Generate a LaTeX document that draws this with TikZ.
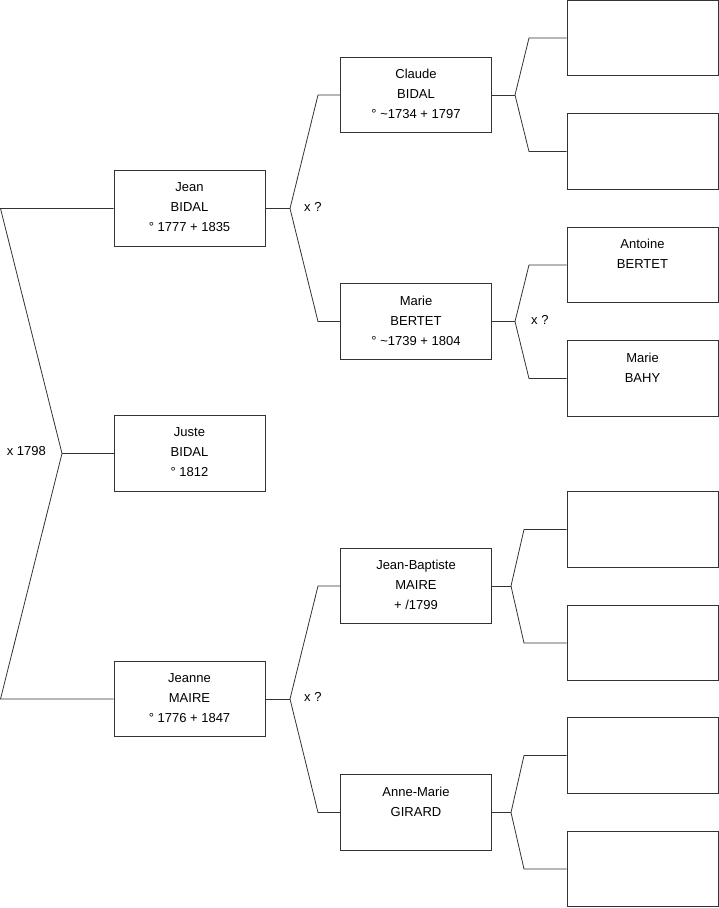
\documentclass[tikz,border=0pt]{standalone}
\usepackage{fontspec}
\setmainfont{Liberation Sans}
\usetikzlibrary{positioning}

\begin{document}
\begin{tikzpicture}[
    x=1pt, y=-1pt,
    person/.style={draw=black!80, line width=0.9pt, minimum width=151pt, minimum height=75.5pt, inner sep=0pt,
        label={[anchor=north, yshift=-9pt, align=center, font=\fontsize{13}{20}\selectfont]north:#1}},
    link/.style={draw=black!80, line width=0.8pt},
    union/.style={anchor=west, inner sep=0pt, font=\fontsize{13}{15}\selectfont}
]
\useasboundingbox (0,0) rectangle (719,908);

% Enfant
\node[person={Juste\\BIDAL\\° 1812}] (juste) at (189.5,453.5) {};

% Parents
\node[person={Jean\\BIDAL\\° 1777 + 1835}] (jean) at (189.5,208.5) {};
\node[person={Jeanne\\MAIRE\\° 1776 + 1847}] (jeanne) at (189.5,699) {};

% Grands-parents
\node[person={Claude\\BIDAL\\° \textasciitilde1734 + 1797}] (claude) at (416,95) {};
\node[person={Marie\\BERTET\\° \textasciitilde1739 + 1804}] (marieb) at (416,321.5) {};
\node[person={Jean-Baptiste\\MAIRE\\+ /1799}] (jbaptiste) at (416,586) {};
\node[person={Anne-Marie\\GIRARD}] (annemarie) at (416,812.5) {};

% Arrière-grands-parents
\node[person={}] (g1) at (642.5,38) {};
\node[person={}] (g2) at (642.5,151.5) {};
\node[person={Antoine\\BERTET}] (g3) at (642.5,265) {};
\node[person={Marie\\BAHY}] (g4) at (642.5,378.5) {};
\node[person={}] (g5) at (642.5,529.5) {};
\node[person={}] (g6) at (642.5,643) {};
\node[person={}] (g7) at (642.5,755.5) {};
\node[person={}] (g8) at (642.5,869) {};

% Fourches
\coordinate (fjuste) at (62,453.5);
\coordinate (fjean) at (290,208.5);
\coordinate (fjeanne) at (290,699);
\coordinate (fclaude) at (515,95);
\coordinate (fmarieb) at (515,321.5);
\coordinate (fjbaptiste) at (511,586);
\coordinate (fannemarie) at (511,812.5);

\draw[link] (juste.west) -- (fjuste);
\draw[link] (fjuste) -- (0.5,208.5) -- (jean.west);
\draw[link] (fjuste) -- (0.5,699) -- (jeanne.west);
\node[union, anchor=east] (u1) at (46,451) {x 1798};

\foreach \p/\a/\b/\f/\t in {jean/claude/marieb/fjean/318, jeanne/jbaptiste/annemarie/fjeanne/318,
    claude/g1/g2/fclaude/529, marieb/g3/g4/fmarieb/529,
    jbaptiste/g5/g6/fjbaptiste/524, annemarie/g7/g8/fannemarie/524} {
    \draw[link] (\p.east) -- (\f);
    \draw[link] (\f) -- (\t,0 |- \a.west) -- (\a.west);
    \draw[link] (\f) -- (\t,0 |- \b.west) -- (\b.west);
}

\node[union] (u2) at (304,207) {x ?};
\node[union] (u3) at (304,697) {x ?};
\node[union] (u4) at (531,320) {x ?};

\end{tikzpicture}
\end{document}
